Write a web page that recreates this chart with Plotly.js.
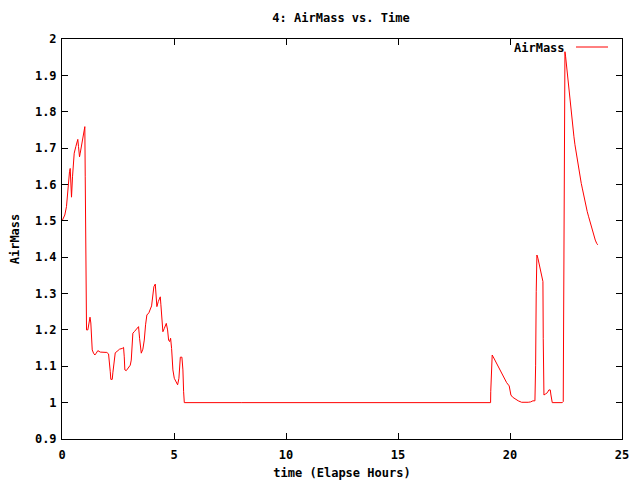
<!DOCTYPE html>
<html>
<head>
<meta charset="utf-8">
<script src="https://cdn.plot.ly/plotly-3.0.1.min.js"></script>
<style>
html,body{margin:0;padding:0;background:#fff;}
#chart{width:640px;height:480px;}
</style>
</head>
<body>
<div id="chart"></div>
<script>
// time (elapsed hours)
var timeHours = [
  0.02, 0.125, 0.20, 0.246, 0.29, 0.335, 0.366, 0.393, 0.424, 0.469,
  0.514, 0.545, 0.617, 0.661, 0.706, 0.737, 0.782, 0.813, 0.84, 0.885,
  0.929, 0.974, 1.019, 1.037, 1.063, 1.095, 1.153, 1.197, 1.25, 1.287,
  1.318, 1.349, 1.408, 1.466, 1.528, 1.60, 1.707, 1.854, 2.0, 2.078,
  2.122, 2.154, 2.18, 2.243, 2.27, 2.30, 2.332, 2.377, 2.458, 2.569,
  2.69, 2.748, 2.779, 2.806, 2.869, 2.958, 3.047, 3.092, 3.137, 3.164,
  3.226, 3.315, 3.418, 3.463, 3.508, 3.539, 3.61, 3.673, 3.731, 3.789,
  3.878, 3.941, 3.999, 4.057, 4.102, 4.164, 4.191, 4.236, 4.298, 4.357,
  4.388, 4.415, 4.459, 4.504, 4.567, 4.625, 4.656, 4.714, 4.759, 4.803,
  4.848, 4.893, 4.924, 4.951, 5.013, 5.072, 5.161, 5.219, 5.25, 5.282,
  5.353, 5.398, 5.429, 5.46, 8.0, 12.0, 16.0, 19.133,
  19.14, 19.178, 19.205, 19.25, 19.40, 19.55, 19.70, 19.85, 19.964, 19.996,
  20.04, 20.116, 20.22, 20.367, 20.518, 20.666, 20.813, 20.92, 21.023, 21.113,
  21.144, 21.171, 21.202, 21.247, 21.292, 21.336, 21.381, 21.426, 21.47, 21.484,
  21.515, 21.59, 21.662, 21.738, 21.797, 21.828, 21.886, 22.333, 22.377, 22.395,
  22.422, 22.453, 22.484, 22.512, 22.556, 22.574, 22.601, 22.645, 22.677, 22.722,
  22.766, 22.811, 22.855, 22.90, 22.945, 23.003, 23.048, 23.092, 23.137, 23.181,
  23.226, 23.27, 23.333, 23.391, 23.449, 23.512, 23.57, 23.628, 23.691, 23.749,
  23.807, 23.87, 23.915
];
var airMass = [
  1.502, 1.516, 1.539, 1.58, 1.612, 1.635, 1.644, 1.585, 1.565, 1.621,
  1.654, 1.686, 1.704, 1.713, 1.724, 1.704, 1.676, 1.686, 1.695, 1.713,
  1.731, 1.745, 1.759, 1.621, 1.337, 1.2, 1.2, 1.219, 1.235, 1.219,
  1.172, 1.145, 1.136, 1.131, 1.136, 1.143, 1.139, 1.138, 1.138, 1.134,
  1.113, 1.085, 1.064, 1.064, 1.082, 1.099, 1.119, 1.137, 1.141, 1.147,
  1.149, 1.152, 1.126, 1.09, 1.088, 1.094, 1.103, 1.117, 1.154, 1.191,
  1.195, 1.202, 1.209, 1.177, 1.14, 1.136, 1.147, 1.172, 1.214, 1.241,
  1.247, 1.257, 1.266, 1.296, 1.319, 1.326, 1.291, 1.264, 1.278, 1.284,
  1.291, 1.269, 1.218, 1.195, 1.204, 1.214, 1.218, 1.2, 1.172, 1.168,
  1.177, 1.149, 1.117, 1.09, 1.067, 1.058, 1.049, 1.067, 1.103, 1.125,
  1.125, 1.09, 1.03, 1.0, 1.0, 1.0, 1.0, 1.0,
  1.03, 1.096, 1.131, 1.126, 1.108, 1.09, 1.071, 1.055, 1.046, 1.035,
  1.021, 1.015, 1.01, 1.005, 1.001, 1.0, 1.001, 1.002, 1.005, 1.005,
  1.103, 1.305, 1.406, 1.397, 1.383, 1.369, 1.356, 1.342, 1.333, 1.177,
  1.021, 1.024, 1.027, 1.035, 1.035, 1.021, 1.0, 1.0, 1.003, 1.241,
  1.722, 1.965, 1.951, 1.933, 1.924, 1.906, 1.878, 1.86, 1.837, 1.805,
  1.777, 1.75, 1.731, 1.709, 1.69, 1.672, 1.654, 1.635, 1.617, 1.603,
  1.59, 1.576, 1.562, 1.544, 1.525, 1.511, 1.498, 1.484, 1.47, 1.456,
  1.447, 1.438, 1.434
];
var xTickVals = [0, 5, 10, 15, 20, 25];
var yTickVals = [0.9, 1, 1.1, 1.2, 1.3, 1.4, 1.5, 1.6, 1.7, 1.8, 1.9, 2];
var yTickText = ["0.9", "1", "1.1", "1.2", "1.3", "1.4", "1.5", "1.6", "1.7", "1.8", "1.9", "2"];
var seriesName = "AirMass";
var chartTitle = "4: AirMass vs. Time";
var xTitle = "time (Elapse Hours)";
var yTitle = "AirMass";

var FONT = {family: "DejaVu Sans Mono, monospace", size: 12, color: "#000", weight: "bold"};

var trace = {
  x: timeHours, y: airMass, type: "scatter", mode: "lines",
  name: seriesName, line: {color: "#ff0000", width: 1}, showlegend: false,
  hoverinfo: "skip"
};

var axisCommon = {
  showline: true, linecolor: "#000", linewidth: 1, mirror: "allticks",
  ticks: "inside", ticklen: 6, tickcolor: "#000", tickwidth: 1,
  showgrid: false, zeroline: false, tickfont: FONT, fixedrange: true
};

var layout = {
  width: 640, height: 480,
  margin: {l: 62, r: 18, t: 39, b: 41, pad: 0},
  paper_bgcolor: "#fff", plot_bgcolor: "#fff",
  font: FONT,
  title: {text: chartTitle, font: FONT, x: 341/640, xanchor: "center", xref: "container",
          y: 1 - 18/480, yref: "container", yanchor: "middle"},
  xaxis: Object.assign({}, axisCommon, {
    range: [0, 25], tickvals: xTickVals, ticktext: xTickVals.map(String),
    ticklabelstandoff: 5,
    title: {text: xTitle, font: FONT, standoff: 7}
  }),
  yaxis: Object.assign({}, axisCommon, {
    range: [0.9, 2], tickvals: yTickVals, ticktext: yTickText,
    ticklabelstandoff: 2,
    title: {text: yTitle, font: FONT, standoff: 12}
  }),
  shapes: [{type: "line", xref: "paper", yref: "paper",
            x0: (576-62)/560, x1: (608-62)/560, y0: (439-47)/400, y1: (439-47)/400,
            line: {color: "#ff0000", width: 1}}],
  annotations: [{text: seriesName, xref: "paper", yref: "paper",
                 x: (567-62)/560, y: (439-48)/400, xanchor: "right", yanchor: "middle",
                 showarrow: false, font: FONT}]
};

Plotly.newPlot("chart", [trace], layout, {displayModeBar: false, staticPlot: true});
</script>
</body>
</html>
